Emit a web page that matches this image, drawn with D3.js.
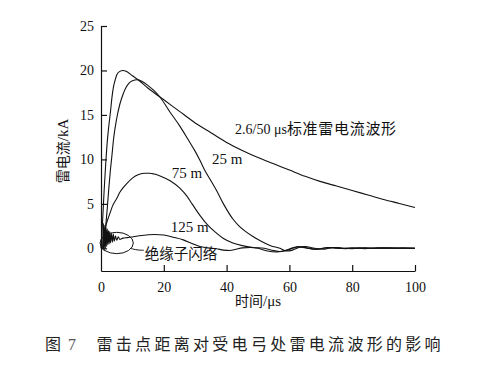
<!DOCTYPE html>
<html>
<head>
<meta charset="utf-8">
<script src="https://cdn.jsdelivr.net/npm/d3@7/dist/d3.min.js"></script>
<style>
  html, body { margin: 0; padding: 0; background: #fff; }
  svg { display: block; }
</style>
</head>
<body>
<svg id="chart" width="481" height="376"></svg>
<script>
// ---------- data ----------
const xTicks = [0, 20, 40, 60, 80, 100];
const yTicks = [0, 5, 10, 15, 20, 25];
const xLabel = ["时间", "/μs"];
const yLabel = ["雷电流", "/kA"];
const caption = "雷击点距离对受电弓处雷电流波形的影响";
const figNo = ["图", "7"];

// 2.6/50 μs standard waveform
const stdT = [0, 0.5, 1, 1.5, 2, 2.5, 3, 3.5, 4, 4.5, 5, 6, 7, 8, 10, 12, 15, 20, 25, 30, 35, 40, 45, 50, 55, 60, 65, 70, 75, 80, 85, 90, 95, 100];
const stdI = [0, 3, 6.5, 9.5, 12, 13.8, 15.3, 17.0, 18.2, 18.9, 19.5, 19.9, 20, 19.9, 19.4, 18.9, 18.0, 16.7, 15.4, 14.1, 13.0, 11.9, 11.0, 10.2, 9.5, 8.8, 8.1, 7.5, 7.0, 6.5, 6.0, 5.5, 5.05, 4.6];

// 25 m
const m25T = [0.8, 1.5, 2, 2.5, 3, 3.5, 4, 5, 6, 7, 8, 9, 10, 11.5, 13, 15, 17, 19, 22, 25, 27.8, 30, 31.5, 33, 35, 36.8, 39, 42, 44, 46, 48.5, 51, 54, 57, 59, 61, 63, 65, 68, 71, 74, 77, 80, 84, 88, 92, 96, 100];
const m25I = [0, 2.5, 4.5, 6.8, 8.8, 10.5, 12.3, 14.6, 16.2, 17.3, 18.1, 18.6, 18.85, 18.95, 18.8, 18.3, 17.7, 16.9, 15.3, 13.8, 12.2, 10.9, 9.9, 8.8, 7.6, 6.5, 5.0, 3.3, 2.5, 1.9, 1.3, 0.8, 0.3, 0, -0.3, -0.2, 0.1, 0.2, 0, -0.1, 0.1, 0, 0.05, -0.05, 0.05, 0, 0.05, 0];

// 75 m
const m75T = [0.8, 1.2, 1.6, 2, 2.5, 3, 3.5, 4, 5, 6, 7, 8, 10, 12, 14, 15.6, 17, 19, 22, 25, 27.3, 29, 31.5, 34, 36.8, 39, 42, 45, 48.5, 52, 55, 57, 59, 61, 63, 65, 68, 71, 74, 77, 80, 84, 88, 92, 96, 100];
const m75I = [0, 2.0, 2.6, 3.1, 3.6, 4.1, 4.6, 5.0, 5.6, 6.3, 6.8, 7.2, 7.9, 8.3, 8.45, 8.45, 8.35, 8.1, 7.6, 6.8, 5.9, 5.0, 3.7, 2.6, 1.7, 1.1, 0.6, 0.3, 0.1, 0, -0.25, -0.35, -0.2, 0.05, 0.2, 0.1, -0.1, 0, 0.1, 0, -0.05, 0.05, 0, 0.05, 0, 0];

// 125 m (with insulator flashover ringing)
const m125T = [0.5, 0.8, 1.0, 1.2, 1.4, 1.6, 1.8, 2.0, 2.2, 2.4, 2.6, 2.8, 3.0, 3.3, 3.6, 3.9, 4.2, 4.6, 5.0, 5.5, 6, 7, 8.5, 10.3, 13, 17, 20, 23, 26.2, 29, 31.5, 34, 36.8, 39, 41, 43, 45, 47.5, 50, 53, 56, 59, 61, 63, 66, 69, 72, 75, 78, 82, 86, 90, 95, 100];
const m125I = [0, 2.8, -0.3, 2.6, 0, 2.4, 0.2, 2.2, 0.4, 2.0, 0.5, 1.9, 0.6, 1.7, 0.7, 1.6, 0.8, 1.4, 0.9, 1.3, 1.0, 1.15, 1.2, 1.3, 1.45, 1.55, 1.5, 1.25, 0.95, 0.55, 0.2, 0.05, -0.05, -0.2, -0.25, -0.1, 0.05, 0.1, 0, -0.3, -0.4, -0.25, 0, 0.15, 0, -0.1, 0.1, 0, -0.05, 0.05, 0, 0.05, 0, 0];

// annotation anchors (data units)
const stdLabel = { t: 42.7, i: 12.84, latin: "2.6/50 μs", cjk: "标准雷电流波形" };
const labels25 = { t: 35.35, i: 9.46, text: "25 m" };
const labels75 = { t: 22.5, i: 7.88, text: "75 m" };
const labels125 = { t: 22.2, i: 1.8, text: "125 m" };
const flashLabel = { t: 13.9, i: -1.24, text: "绝缘子闪络" };
const ellipseC = { t: 5.0, i: 0.6, rt: 5.3, ri: 1.2 };
const leaderT = [9.3, 11.5, 13.6];
const leaderI = [0.0, -0.2, -0.22];

// ---------- drawing ----------
const svg = d3.select("#chart");
const W = 481, H = 376;
const m = { left: 101, top: 26, right: 66, bottom: 105 };
const x = d3.scaleLinear().domain([0, 100]).range([m.left, W - m.right]);
const y = d3.scaleLinear().domain([-2.55, 25]).range([H - m.bottom, m.top]);

const serif = "'Liberation Serif', 'Times New Roman', serif";
const cjk = "'Noto Sans CJK SC', 'Noto Sans', sans-serif";
const ink = "#111";

svg.append("rect").attr("width", W).attr("height", H).attr("fill", "#fff");

// axes
const xAxis = d3.axisBottom(x).tickValues(xTicks).tickSizeInner(-6).tickSizeOuter(0).tickPadding(11);
const yAxis = d3.axisLeft(y).tickValues(yTicks).tickSizeInner(-6).tickSizeOuter(0).tickPadding(7);

const gx = svg.append("g").attr("transform", `translate(0,${y(-2.55)})`).call(xAxis);
const gy = svg.append("g").attr("transform", `translate(${x(0)},0)`).call(yAxis);
[gx, gy].forEach(g => {
  g.select(".domain").attr("stroke", ink).attr("stroke-width", 1.2);
  g.selectAll(".tick line").attr("stroke", ink).attr("stroke-width", 1.2);
  g.selectAll(".tick text").attr("fill", ink).style("font-family", serif).style("font-size", "14px");
});
gx.selectAll(".tick").filter(d => d === 0).select("line").remove();

// series
const line = d3.line().x(d => x(d[0])).y(d => y(d[1])).curve(d3.curveMonotoneX);
const series = [
  d3.zip(stdT, stdI),
  d3.zip(m25T, m25I),
  d3.zip(m75T, m75I),
  d3.zip(m125T, m125I)
];
svg.append("g").selectAll("path").data(series).join("path")
  .attr("d", line).attr("fill", "none").attr("stroke", ink).attr("stroke-width", 1.1)
  .attr("stroke-linejoin", "round");

// ellipse + leader
svg.append("ellipse")
  .attr("cx", x(ellipseC.t)).attr("cy", y(ellipseC.i))
  .attr("rx", x(ellipseC.rt) - x(0)).attr("ry", y(0) - y(ellipseC.ri))
  .attr("fill", "none").attr("stroke", ink).attr("stroke-width", 1);
svg.append("path")
  .attr("d", d3.line().x(d => x(d[0])).y(d => y(d[1])).curve(d3.curveBasis)(d3.zip(leaderT, leaderI)))
  .attr("fill", "none").attr("stroke", ink).attr("stroke-width", 1);

// annotations
const tl = svg.append("text").attr("x", x(stdLabel.t)).attr("y", y(stdLabel.i)).attr("fill", ink);
tl.append("tspan").attr("fill", ink).style("font-family", serif).style("font-size", "14px").text(stdLabel.latin);
tl.append("tspan").attr("fill", ink).style("font-family", cjk).style("font-size", "15px").style("letter-spacing", "0.7px").text(stdLabel.cjk);

[labels25, labels75, labels125].forEach(l => {
  svg.append("text").attr("x", x(l.t)).attr("y", y(l.i)).attr("fill", ink)
    .style("font-family", serif).style("font-size", "15px").text(l.text);
});
svg.append("text").attr("x", x(flashLabel.t)).attr("y", y(flashLabel.i)).attr("fill", ink)
  .style("font-family", cjk).style("font-size", "14.5px").text(flashLabel.text);

// axis titles
const xt = svg.append("text").attr("x", 258).attr("y", 306).attr("text-anchor", "middle").attr("fill", ink);
xt.append("tspan").attr("fill", ink).style("font-family", cjk).style("font-size", "14px").text(xLabel[0]);
xt.append("tspan").attr("fill", ink).style("font-family", serif).style("font-size", "15px").text(xLabel[1]);

const yt = svg.append("text").attr("transform", "translate(68,151) rotate(-90)").attr("text-anchor", "middle").attr("fill", ink);
yt.append("tspan").attr("fill", ink).style("font-family", cjk).style("font-size", "14px").text(yLabel[0]);
yt.append("tspan").attr("fill", ink).style("font-family", serif).style("font-size", "15px").text(yLabel[1]);

// caption
svg.append("text").attr("x", 45).attr("y", 350).attr("fill", "#222")
  .style("font-family", cjk).style("font-size", "16px").text(figNo[0]);
svg.append("text").attr("x", 68).attr("y", 350).attr("fill", "#555")
  .style("font-family", serif).style("font-size", "16px").text(figNo[1]);
svg.append("text").attr("x", 96.5).attr("y", 350).attr("fill", "#222")
  .style("font-family", cjk).style("font-size", "16px").style("letter-spacing", "3.3px").text(caption);
</script>
</body>
</html>
